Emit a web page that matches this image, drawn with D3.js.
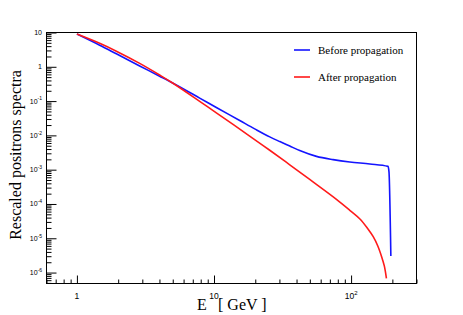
<!DOCTYPE html>
<html>
<head>
<meta charset="utf-8">
<script src="https://cdn.jsdelivr.net/npm/d3@7"></script>
<style>
  html, body { margin: 0; padding: 0; background: #fff; }
  svg { display: block; }
</style>
</head>
<body>
<svg id="chart" width="463" height="315"></svg>
<script>
// ---- data ----
const energyBefore = [1.0, 1.465, 1.94, 2.87, 4.01, 4.99, 7.86, 10.4, 15.4, 19.8, 25.5, 30.2, 35.7, 42.2, 55.9, 73.9, 97.8, 137, 186, 189, 195];
const spectrumBefore = [9.0, 4.27, 2.39, 1.06, 0.532, 0.337, 0.1223, 0.065, 0.0272, 0.0155, 0.00904, 0.00659, 0.00488, 0.00361, 0.00244, 0.00196, 0.00167, 0.00147, 0.00125, 0.00086, 3.05e-6];

const energyAfter = [1.0, 1.465, 1.94, 2.87, 4.01, 4.99, 7.86, 10.4, 18.2, 25.5, 35.7, 49.9, 78.2, 97.8, 116, 132, 145, 156.6, 167, 174.7, 181];
const spectrumAfter = [9.0, 4.84, 2.85, 1.256, 0.577, 0.337, 0.0986, 0.0456, 0.00955, 0.00368, 0.00139, 5.18e-4, 1.36e-4, 6.55e-5, 3.66e-5, 1.93e-5, 1.11e-5, 5.97e-6, 2.91e-6, 1.56e-6, 6.8e-7];

const seriesNames = ["Before propagation", "After propagation"];
const seriesColors = ["#1414ff", "#ff1a1a"];

const xTickValues = [1, 10, 100];
const xTickLabels = ["1", "10", "10^2"];
const yTickValues = [10, 1, 0.1, 0.01, 1e-3, 1e-4, 1e-5, 1e-6];
const yTickLabels = ["10", "1", "10^-1", "10^-2", "10^-3", "10^-4", "10^-5", "10^-6"];

const xDomain = [0.6, 300];
const yDomain = [4.8e-7, 10];

// ---- layout ----
const svg = d3.select("#chart");
const L = 46.5, R = 416.5, T = 32.5, B = 283.5;

const x = d3.scaleLog().domain(xDomain).range([L, R]);
const y = d3.scaleLog().domain(yDomain).range([B, T]);

// minor ticks
const xMinor = [];
for (let d = -1; d <= 2; d++) for (let k = 2; k <= 9; k++) {
  const v = k * Math.pow(10, d);
  if (v >= xDomain[0] && v <= xDomain[1] && !xTickValues.includes(v)) xMinor.push(v);
}
const yMinor = [];
for (let d = -7; d <= 0; d++) for (let k = 2; k <= 9; k++) {
  const v = k * Math.pow(10, d);
  if (v >= yDomain[0] && v <= yDomain[1]) yMinor.push(v);
}

function strip(g) { g.select(".domain").remove(); g.selectAll("line").attr("stroke", "#000"); }

svg.append("g").attr("transform", `translate(0,${B})`)
  .call(d3.axisBottom(x).tickValues(xMinor).tickSize(-4).tickFormat(""))
  .call(strip);
svg.append("g").attr("transform", `translate(0,${B})`)
  .call(d3.axisBottom(x).tickValues(xTickValues).tickSize(-8).tickFormat(""))
  .call(strip);
svg.append("g").attr("transform", `translate(${L},0)`)
  .call(d3.axisLeft(y).tickValues(yMinor).tickSize(-5).tickFormat(""))
  .call(strip);
svg.append("g").attr("transform", `translate(${L},0)`)
  .call(d3.axisLeft(y).tickValues(yTickValues).tickSize(-10).tickFormat(""))
  .call(strip);

// frame
svg.append("rect").attr("x", L).attr("y", T).attr("width", R - L).attr("height", B - T)
  .attr("fill", "none").attr("stroke", "#000").attr("stroke-width", 1);

// tick labels with superscripts
function addLabel(sel, label, baseSize, supSize) {
  const parts = label.split("^");
  sel.append("tspan").text(parts[0]).attr("font-size", baseSize);
  if (parts[1]) sel.append("tspan").text(parts[1]).attr("font-size", supSize).attr("dy", -baseSize * 0.45);
}
xTickValues.forEach((v, i) => {
  const t = svg.append("text").attr("x", x(v)).attr("y", 298.5)
    .attr("text-anchor", "middle").attr("font-family", "Liberation Sans, Arial, sans-serif").attr("fill", "#000");
  addLabel(t, xTickLabels[i], 8.5, 6);
});
yTickValues.forEach((v, i) => {
  const t = svg.append("text").attr("x", 42).attr("y", y(v) + 2.5)
    .attr("text-anchor", "end").attr("font-family", "Liberation Sans, Arial, sans-serif").attr("fill", "#000");
  addLabel(t, yTickLabels[i], 7, 5);
});

// axis titles
svg.append("text").attr("x", 197).attr("y", 310).attr("font-family", "Liberation Serif, Times New Roman, serif")
  .attr("font-size", 16).text("E");
svg.append("text").attr("x", 218).attr("y", 310).attr("font-family", "Liberation Serif, Times New Roman, serif")
  .attr("font-size", 16).text("[ GeV ]");
svg.append("text").attr("transform", "translate(20.5,155) rotate(-90)").attr("text-anchor", "middle")
  .attr("font-family", "Liberation Serif, Times New Roman, serif").attr("font-size", 16)
  .text("Rescaled positrons spectra");

// curves
const curves = [d3.curveMonotoneX, d3.curveCatmullRom.alpha(0.5)];
const series = [
  d3.zip(energyBefore, spectrumBefore),
  d3.zip(energyAfter, spectrumAfter)
];
series.forEach((s, i) => {
  const line = d3.line().x(d => x(d[0])).y(d => y(d[1])).curve(curves[i]);
  svg.append("path").datum(s).attr("d", line).attr("fill", "none")
    .attr("stroke", seriesColors[i]).attr("stroke-width", 1.6);
});

// legend
const legY = [50, 77];
seriesNames.forEach((n, i) => {
  svg.append("line").attr("x1", 294).attr("x2", 310).attr("y1", legY[i]).attr("y2", legY[i])
    .attr("stroke", seriesColors[i]).attr("stroke-width", 1.6);
  svg.append("text").attr("x", 318).attr("y", legY[i] + 3.5)
    .attr("font-family", "Liberation Serif, Times New Roman, serif").attr("font-size", 11).text(n);
});
</script>
</body>
</html>
